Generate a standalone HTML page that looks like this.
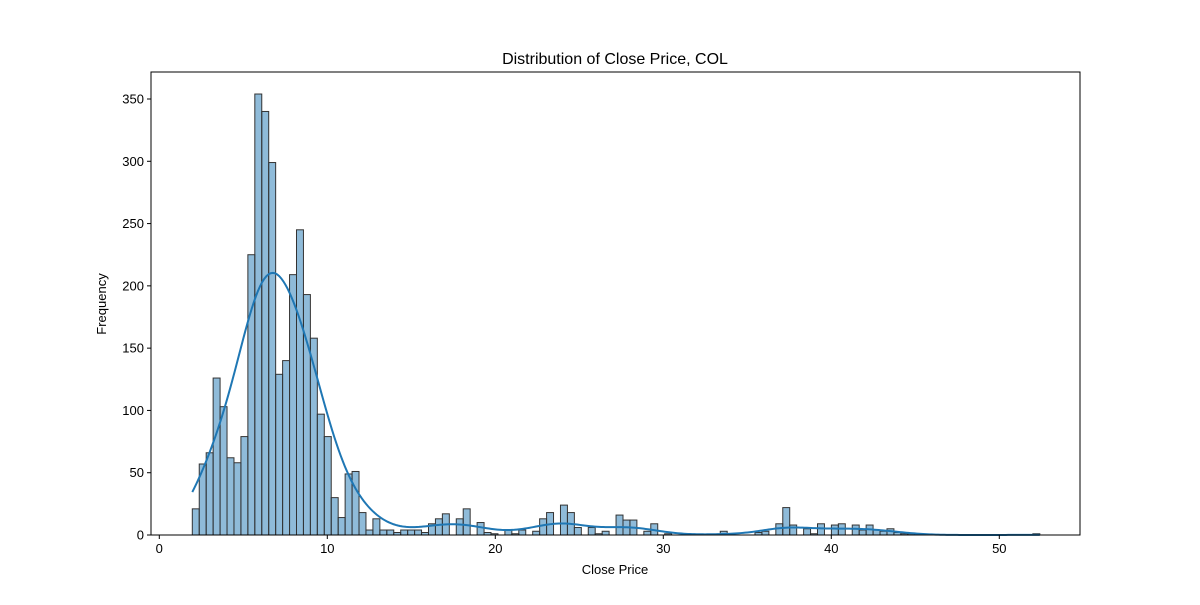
<!DOCTYPE html>
<html><head><meta charset="utf-8"><style>
body{margin:0;background:#fff;font-family:"Liberation Sans","DejaVu Sans",sans-serif;}
</style></head><body>
<svg id="chart" width="1200" height="600" xmlns="http://www.w3.org/2000/svg">
<rect width="1200" height="600" fill="#fff"/>
<text x="615" y="64" text-anchor="middle" font-size="16">Distribution of Close Price, COL</text>
<text x="615" y="574" text-anchor="middle" font-size="13">Close Price</text>
<text x="106" y="304" text-anchor="middle" font-size="13" transform="rotate(-90 106 304)">Frequency</text>
<g id="bars"></g><g id="kde"></g><g id="axes"></g>
</svg>
<script>
const binStart = 1.964;
const binWidth = 0.4135;
const counts = [21,57,66,126,103,62,58,79,225,354,340,299,129,140,209,245,193,158,97,79,
30,14,49,51,18,4,13,4,4,2,4,4,4,2,9,13,17,0,13,21,
0,10,2,1,0,4,1,4,0,3,13,18,0,24,18,6,0,6,1,3,
0,16,12,12,0,3,9,0,1,0,0,0,0,0,0,0,3,1,0,0,
0,2,3,0,9,22,8,0,5,1,9,0,8,9,0,8,4,8,4,3,
5,2,1,1,0,0,0,0,0,0,0,0,0,0,0,0,0,0,0,0,0,1];
const xTicks = [0,10,20,30,40,50];
const yTicks = [0,50,100,150,200,250,300,350];
const L=151,R=1080,T=72,B=535;
const xs = v => 159.3 + v*16.8;
const ys = v => B - v*1.2457;
const NS="http://www.w3.org/2000/svg";
function mk(tag, attrs, parent){const e=document.createElementNS(NS,tag);for(const k in attrs)e.setAttribute(k,attrs[k]);parent.appendChild(e);return e;}
const bars=document.getElementById('bars');
counts.forEach((c,i)=>{
  if(c<=0) return;
  const x0=xs(binStart+i*binWidth), x1=xs(binStart+(i+1)*binWidth);
  const r=mk('rect',{x:x0,y:ys(c),width:x1-x0,height:B-ys(c),fill:'rgba(31,119,180,0.5)',stroke:'#333','stroke-width':1},bars);
  
  
});
let N=0,mean=0;counts.forEach((c,i)=>{N+=c;mean+=c*(binStart+(i+0.5)*binWidth);});mean/=N;
let vr=0;counts.forEach((c,i)=>{const x=binStart+(i+0.5)*binWidth;vr+=c*(x-mean)*(x-mean);});vr/=N;
const bw=Math.sqrt(vr)*Math.pow(N,-0.2)*1.0;
const xmin=binStart, xmax=binStart+counts.length*binWidth;
let d="";
for(let s=0;s<=400;s++){
  const x=xmin+(xmax-xmin)*s/400;let den=0;
  counts.forEach((c,i)=>{const xc=binStart+(i+0.5)*binWidth;const z=(x-xc)/bw;den+=c*Math.exp(-0.5*z*z);});
  den=den/(bw*Math.sqrt(2*Math.PI))*binWidth;
  d+=(s?"L":"M")+xs(x).toFixed(2)+","+ys(den).toFixed(2);
}
const kl=mk('path',{d:d,fill:'none',stroke:'#1f77b4','stroke-width':2},document.getElementById('kde'));


const ax=document.getElementById('axes');
const fr=mk('rect',{x:L,y:T,width:R-L,height:B-T,fill:'none',stroke:'#000','stroke-width':1},ax);


xTicks.forEach(t=>{
  mk('line',{x1:xs(t),x2:xs(t),y1:B,y2:B+4,stroke:'#000'},ax);
  const tx=mk('text',{x:xs(t),y:B+18,'text-anchor':'middle','font-size':13},ax);tx.textContent=t;
  
  
});
yTicks.forEach(t=>{
  mk('line',{x1:L-4,x2:L,y1:ys(t),y2:ys(t),stroke:'#000'},ax);
  const tx=mk('text',{x:L-7,y:ys(t)+4.5,'text-anchor':'end','font-size':13},ax);tx.textContent=t;
  
  
});
</script>
</body></html>
